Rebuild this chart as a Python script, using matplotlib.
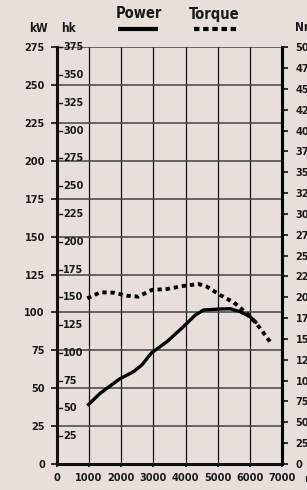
import matplotlib.pyplot as plt
import matplotlib.transforms as mtransforms
import numpy as np

# --- data -------------------------------------------------------------------
rpm_power = [950, 1350, 1950, 2380, 2640, 2950, 3420, 3930, 4300, 4550, 5070, 5380, 5690, 6000, 6210]
power_kw = [38.5, 46.7, 56.1, 60.9, 65.3, 73.5, 80.7, 90.6, 98.3, 101.6, 102.3, 102.5, 100.5, 97.2, 92.9]

rpm_torque = [950, 1350, 1760, 2170, 2530, 2950, 3420, 3930, 4400, 4660, 5070, 5490, 5900, 6210, 6620]
torque_nm = [198.8, 206.0, 205.6, 202.0, 200.8, 208.8, 210.0, 213.6, 216.0, 212.8, 202.8, 194.0, 180.8, 168.0, 146.8]

rpm_ticks = [0, 1000, 2000, 3000, 4000, 5000, 6000, 7000]
kw_ticks = list(range(0, 276, 25))
hk_ticks = list(range(25, 376, 25))
nm_ticks = list(range(0, 501, 25))

KW_PER_HK = 275 / 375
NM_MAX = 500
KW_MAX = 275

BG = "#e8dfda"
FONT = dict(family=["Liberation Sans Narrow", "DejaVu Sans"], fontweight="bold",
            fontstretch="condensed", color="#1a1a1a")

fig = plt.figure(figsize=(3.07, 4.90), dpi=100, facecolor=BG)
ax = fig.add_axes([56.7 / 307, 26 / 490, (282.3 - 56.7) / 307, (464 - 47.3) / 490])
ax.set_facecolor(BG)
ax.set_xlim(0, 7000)
ax.set_ylim(0, KW_MAX)

# grid
for r in rpm_ticks[1:-1]:
    ax.axvline(r, color="#111111", lw=0.9, zorder=1)
for k in kw_ticks[1:]:
    ax.axhline(k, color="#444444", lw=1.1, zorder=1)

ax.spines["top"].set_visible(False)
for side in ["left", "bottom", "right"]:
    ax.spines[side].set_linewidth(2.2)
    ax.spines[side].set_color("#111111")

# kW (left, outside)
ax.set_yticks(kw_ticks)
ax.set_yticklabels([str(k) for k in kw_ticks], fontsize=7.8, **FONT)
ax.tick_params(axis="y", direction="out", length=4, width=1.2, pad=4.5, color="#111111")

# rpm (bottom)
ax.set_xticks(rpm_ticks)
ax.set_xticklabels([str(r) for r in rpm_ticks], fontsize=7.8, **FONT)
ax.tick_params(axis="x", direction="out", length=2.5, width=1.2, pad=4, color="#111111")

# hk (inside the left axis)
blend = mtransforms.blended_transform_factory(ax.transAxes, ax.transData)
for hk in hk_ticks:
    y = hk * KW_PER_HK
    ax.plot([0, 0.022], [y, y], color="#111111", lw=1.0, transform=blend, clip_on=False, zorder=3)
    ax.text(0.028, y, str(hk), transform=blend, ha="left", va="center", fontsize=7.8, zorder=3, **FONT)

# Nm (right)
ax2 = ax.twinx()
ax2.set_ylim(0, NM_MAX)
ax2.set_yticks(nm_ticks)
ax2.set_yticklabels([str(n) for n in nm_ticks], fontsize=7.8, **FONT)
ax2.tick_params(axis="y", direction="out", length=4, width=1.2, pad=5.5, color="#111111")
for side in ["top", "left", "bottom"]:
    ax2.spines[side].set_visible(False)
ax2.spines["right"].set_linewidth(2.2)

# curves
ax.plot(rpm_power, power_kw, color="black", lw=2.4, solid_capstyle="butt", zorder=4)
ax2.plot(rpm_torque, torque_nm, color="black", lw=2.8, linestyle=(0, (1.1, 1.0)), zorder=4)

# unit labels
fig.text(38 / 307, 1 - 28 / 490, "kW", ha="center", va="center", fontsize=8.5, **FONT)
fig.text(68 / 307, 1 - 28 / 490, "hk", ha="center", va="center", fontsize=8.5, **FONT)
fig.text(295.5 / 307, 1 - 27.5 / 490, "Nm", ha="left", va="center", fontsize=8.5, **FONT)
fig.text(304 / 307, 1 - 478.5 / 490, "rpm", ha="left", va="center", fontsize=7.8, **FONT)

# legend
fig.text(139 / 307, 1 - 14 / 490, "Power", ha="center", va="center", fontsize=10.5, **FONT)
fig.text(214.5 / 307, 1 - 14 / 490, "Torque", ha="center", va="center", fontsize=10.5, **FONT)
fig.add_artist(plt.Line2D([118 / 307, 158 / 307], [1 - 29 / 490] * 2, color="black", lw=3.0,
                          solid_capstyle="butt"))
fig.add_artist(plt.Line2D([194.5 / 307, 238 / 307], [1 - 29.5 / 490] * 2, color="black", lw=3.0,
                          linestyle=(0, (1.3, 0.9)), dash_capstyle="butt"))

fig.savefig("out.png", dpi=100, facecolor=BG)
